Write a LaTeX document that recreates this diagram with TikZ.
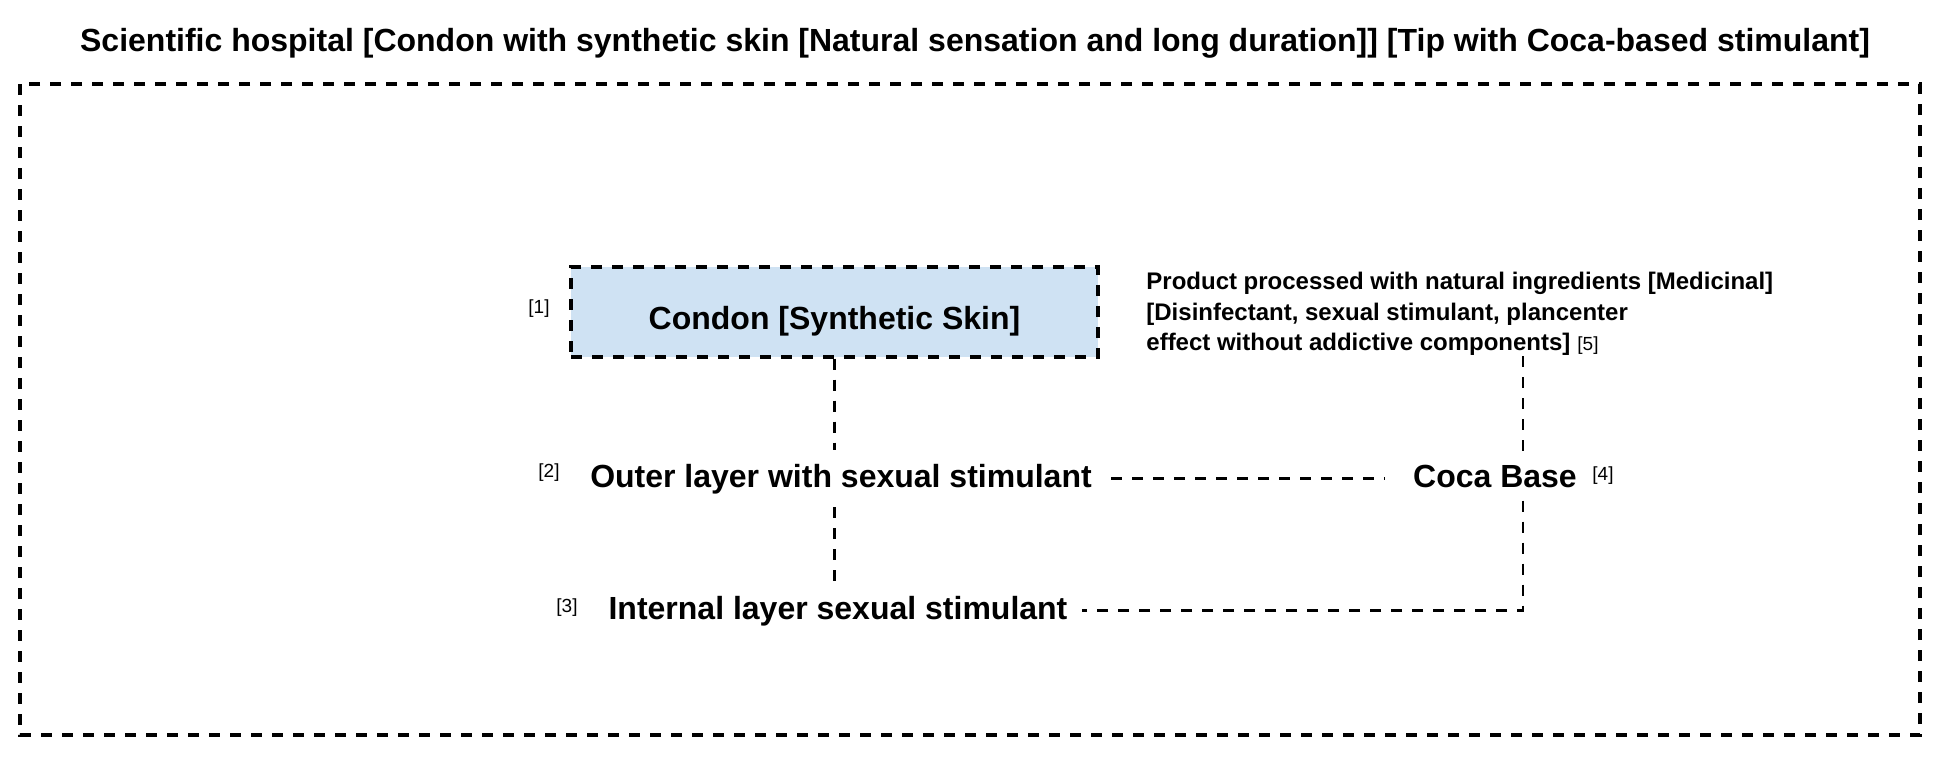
\documentclass[tikz,border=0pt]{standalone}
\usepackage{fontspec}
\setmainfont{Liberation Sans}
\definecolor{boxblue}{HTML}{CFE2F3}
\begin{document}
\begin{tikzpicture}[x=0.5pt,y=-0.5pt,
  framedash/.style={line width=1.6pt,dash pattern=on 5.5pt off 5pt},
  dashline/.style={line width=1.3pt,dash pattern=on 5.5pt off 5pt},
  bigtext/.style={font=\fontsize{16}{19}\selectfont\bfseries,inner ysep=6.5pt},
  tag/.style={font=\fontsize{9.5}{11}\selectfont,inner sep=0pt}
]
\useasboundingbox (0,0) rectangle (1953,762);
\node[font=\fontsize{16}{19}\selectfont\bfseries] (title) at (975,43) {Scientific hospital [Condon with synthetic skin [Natural sensation and long duration]] [Tip with Coca-based stimulant]};
\draw[framedash] (20,84) rectangle (1920,735);
\node[draw,framedash,fill=boxblue,minimum width=263.5pt,minimum height=45pt,
  font=\fontsize{16}{19}\selectfont\bfseries,text height=20pt,text depth=2.5pt,inner sep=0pt] (box) at (834.5,312) {Condon [Synthetic Skin]};
\node[bigtext,anchor=base,inner xsep=9.5pt] (outer) at (841,487) {Outer layer with sexual stimulant};
\node[bigtext,anchor=base,inner xsep=7pt] (internal) at (838,619) {Internal layer sexual stimulant};
\node[bigtext,anchor=base,inner xsep=14pt] (coca) at (1495,487) {Coca Base};
\node[font=\fontsize{12}{15.25}\selectfont\bfseries,align=left,anchor=west,inner sep=0pt] (product) at (1146,314) {Product processed with natural ingredients [Medicinal]\\{}[Disinfectant, sexual stimulant, plancenter\\effect without addictive components]};
\node[tag] (t1) at (539,309) {[1]};
\node[tag] (t2) at (549,473) {[2]};
\node[tag] (t3) at (567,608) {[3]};
\node[tag] (t4) at (1603,476) {[4]};
\node[tag] (t5) at (1588,346) {[5]};
\coordinate (pc) at (1523,0);
\draw[dashline] (box.south) -- (box.south |- outer.north);
\draw[dashline] (box.south |- outer.south) -- (box.south |- internal.north);
\draw[dashline] (outer.east) -- (coca.west |- outer.east);
\draw[dashline] (product.south -| pc) -- (coca.north -| pc);
\draw[dashline] (coca.south -| pc) |- (internal.east);
\end{tikzpicture}
\end{document}
